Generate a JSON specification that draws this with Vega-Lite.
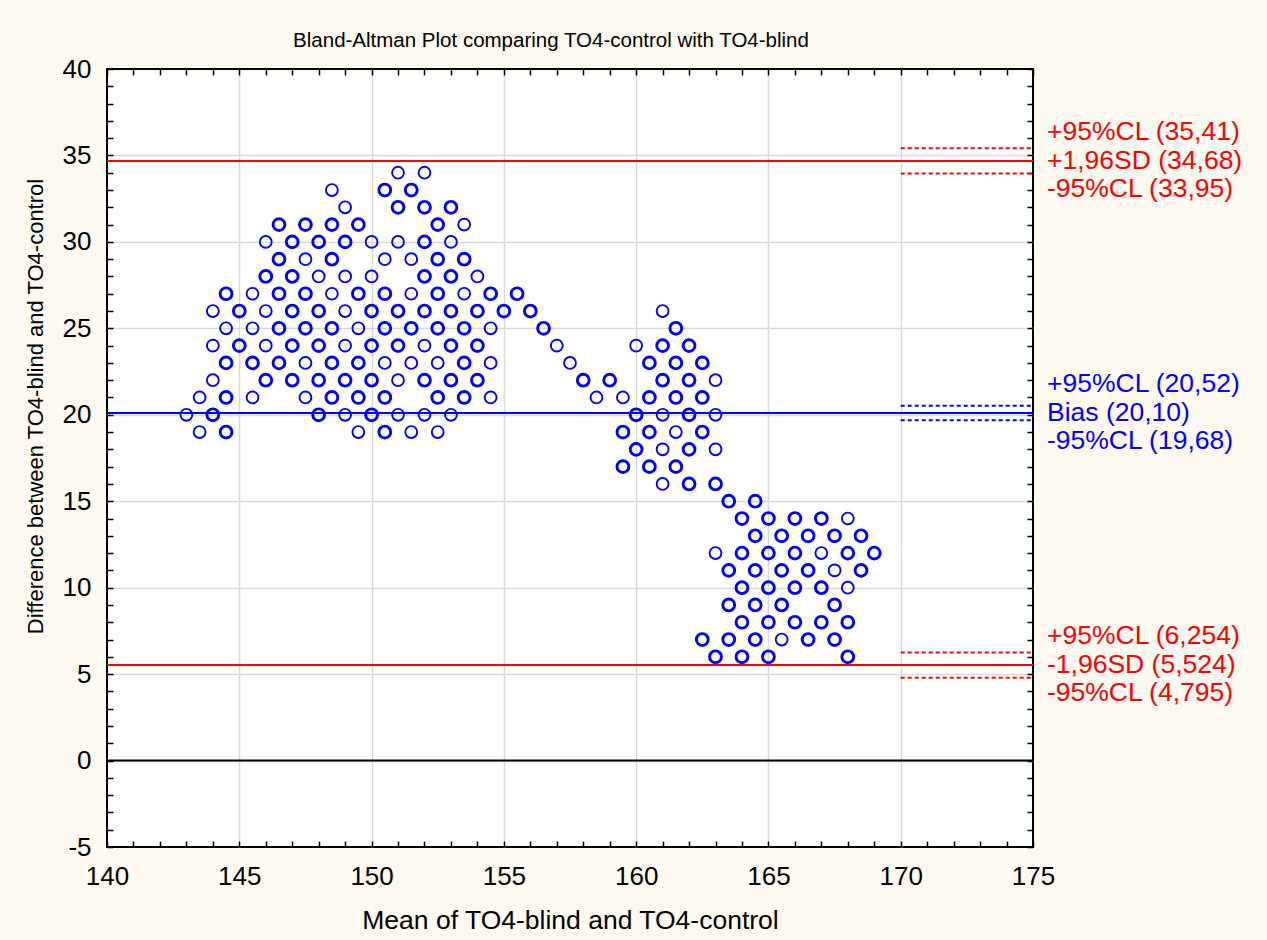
{
  "$schema": "https://vega.github.io/schema/vega-lite/v6.json",
  "width": 926,
  "height": 778,
  "autosize": {"type": "none"},
  "padding": {"left": 107, "top": 69, "right": 234, "bottom": 93},
  "background": "#fdf9f0",
  "title": {
    "text": "Bland-Altman Plot comparing TO4-control with TO4-blind",
    "font": "Liberation Sans",
    "fontSize": 20.5,
    "fontWeight": "normal",
    "color": "black",
    "anchor": "middle",
    "frame": "group",
    "baseline": "alphabetic",
    "offset": -11,
    "dx": -19
  },
  "config": {
    "font": "Liberation Sans",
    "view": {"fill": "white", "stroke": "black", "strokeWidth": 2}
  },
  "datasets": {
    "points": [
      {"m":151,"d":34,"n":1},{"m":152,"d":34,"n":1},
      {"m":148.5,"d":33,"n":1},{"m":150.5,"d":33,"n":2},{"m":151.5,"d":33,"n":2},
      {"m":149,"d":32,"n":1},{"m":151,"d":32,"n":2},{"m":152,"d":32,"n":2},{"m":153,"d":32,"n":2},
      {"m":146.5,"d":31,"n":2},{"m":147.5,"d":31,"n":2},{"m":148.5,"d":31,"n":2},{"m":149.5,"d":31,"n":2},{"m":152.5,"d":31,"n":2},{"m":153.5,"d":31,"n":1},
      {"m":146,"d":30,"n":1},{"m":147,"d":30,"n":2},{"m":148,"d":30,"n":2},{"m":149,"d":30,"n":2},{"m":150,"d":30,"n":1},{"m":151,"d":30,"n":1},{"m":152,"d":30,"n":2},{"m":153,"d":30,"n":1},
      {"m":146.5,"d":29,"n":2},{"m":147.5,"d":29,"n":1},{"m":148.5,"d":29,"n":2},{"m":150.5,"d":29,"n":1},{"m":151.5,"d":29,"n":1},{"m":152.5,"d":29,"n":2},{"m":153.5,"d":29,"n":2},
      {"m":146,"d":28,"n":2},{"m":147,"d":28,"n":2},{"m":148,"d":28,"n":1},{"m":149,"d":28,"n":1},{"m":150,"d":28,"n":1},{"m":152,"d":28,"n":2},{"m":153,"d":28,"n":2},{"m":154,"d":28,"n":1},
      {"m":144.5,"d":27,"n":2},{"m":145.5,"d":27,"n":1},{"m":146.5,"d":27,"n":2},{"m":147.5,"d":27,"n":2},{"m":148.5,"d":27,"n":1},{"m":149.5,"d":27,"n":2},{"m":150.5,"d":27,"n":2},{"m":151.5,"d":27,"n":1},{"m":152.5,"d":27,"n":2},{"m":153.5,"d":27,"n":1},{"m":154.5,"d":27,"n":2},{"m":155.5,"d":27,"n":2},
      {"m":144,"d":26,"n":1},{"m":145,"d":26,"n":2},{"m":146,"d":26,"n":1},{"m":147,"d":26,"n":2},{"m":148,"d":26,"n":2},{"m":149,"d":26,"n":1},{"m":150,"d":26,"n":2},{"m":151,"d":26,"n":2},{"m":152,"d":26,"n":2},{"m":153,"d":26,"n":2},{"m":154,"d":26,"n":2},{"m":155,"d":26,"n":2},{"m":156,"d":26,"n":2},{"m":161,"d":26,"n":1},
      {"m":144.5,"d":25,"n":1},{"m":145.5,"d":25,"n":1},{"m":146.5,"d":25,"n":2},{"m":147.5,"d":25,"n":2},{"m":148.5,"d":25,"n":2},{"m":149.5,"d":25,"n":1},{"m":150.5,"d":25,"n":2},{"m":151.5,"d":25,"n":2},{"m":152.5,"d":25,"n":2},{"m":153.5,"d":25,"n":2},{"m":154.5,"d":25,"n":1},{"m":156.5,"d":25,"n":2},{"m":161.5,"d":25,"n":2},
      {"m":144,"d":24,"n":1},{"m":145,"d":24,"n":2},{"m":146,"d":24,"n":1},{"m":147,"d":24,"n":2},{"m":148,"d":24,"n":2},{"m":149,"d":24,"n":1},{"m":150,"d":24,"n":2},{"m":151,"d":24,"n":2},{"m":152,"d":24,"n":1},{"m":153,"d":24,"n":2},{"m":154,"d":24,"n":2},{"m":157,"d":24,"n":1},{"m":160,"d":24,"n":1},{"m":161,"d":24,"n":2},{"m":162,"d":24,"n":2},
      {"m":144.5,"d":23,"n":2},{"m":145.5,"d":23,"n":2},{"m":146.5,"d":23,"n":2},{"m":147.5,"d":23,"n":1},{"m":148.5,"d":23,"n":2},{"m":149.5,"d":23,"n":2},{"m":150.5,"d":23,"n":1},{"m":151.5,"d":23,"n":1},{"m":152.5,"d":23,"n":1},{"m":153.5,"d":23,"n":2},{"m":154.5,"d":23,"n":1},{"m":157.5,"d":23,"n":1},{"m":160.5,"d":23,"n":2},{"m":161.5,"d":23,"n":2},{"m":162.5,"d":23,"n":2},
      {"m":144,"d":22,"n":1},{"m":146,"d":22,"n":2},{"m":147,"d":22,"n":2},{"m":148,"d":22,"n":2},{"m":149,"d":22,"n":2},{"m":150,"d":22,"n":2},{"m":151,"d":22,"n":1},{"m":152,"d":22,"n":2},{"m":153,"d":22,"n":2},{"m":154,"d":22,"n":2},{"m":158,"d":22,"n":2},{"m":159,"d":22,"n":2},{"m":161,"d":22,"n":2},{"m":162,"d":22,"n":2},{"m":163,"d":22,"n":1},
      {"m":143.5,"d":21,"n":1},{"m":144.5,"d":21,"n":2},{"m":145.5,"d":21,"n":1},{"m":147.5,"d":21,"n":1},{"m":148.5,"d":21,"n":2},{"m":149.5,"d":21,"n":2},{"m":150.5,"d":21,"n":2},{"m":152.5,"d":21,"n":2},{"m":153.5,"d":21,"n":2},{"m":154.5,"d":21,"n":1},{"m":158.5,"d":21,"n":1},{"m":159.5,"d":21,"n":1},{"m":160.5,"d":21,"n":2},{"m":161.5,"d":21,"n":2},{"m":162.5,"d":21,"n":2},
      {"m":143,"d":20,"n":1},{"m":144,"d":20,"n":2},{"m":148,"d":20,"n":2},{"m":149,"d":20,"n":1},{"m":150,"d":20,"n":2},{"m":151,"d":20,"n":1},{"m":152,"d":20,"n":1},{"m":153,"d":20,"n":1},{"m":160,"d":20,"n":2},{"m":161,"d":20,"n":1},{"m":162,"d":20,"n":2},{"m":163,"d":20,"n":1},
      {"m":143.5,"d":19,"n":1},{"m":144.5,"d":19,"n":2},{"m":149.5,"d":19,"n":1},{"m":150.5,"d":19,"n":2},{"m":151.5,"d":19,"n":1},{"m":152.5,"d":19,"n":1},{"m":159.5,"d":19,"n":2},{"m":160.5,"d":19,"n":2},{"m":161.5,"d":19,"n":1},{"m":162.5,"d":19,"n":2},
      {"m":160,"d":18,"n":2},{"m":161,"d":18,"n":1},{"m":162,"d":18,"n":2},{"m":163,"d":18,"n":1},
      {"m":159.5,"d":17,"n":2},{"m":160.5,"d":17,"n":2},{"m":161.5,"d":17,"n":2},
      {"m":161,"d":16,"n":1},{"m":162,"d":16,"n":2},{"m":163,"d":16,"n":2},
      {"m":163.5,"d":15,"n":2},{"m":164.5,"d":15,"n":2},
      {"m":164,"d":14,"n":2},{"m":165,"d":14,"n":2},{"m":166,"d":14,"n":2},{"m":167,"d":14,"n":2},{"m":168,"d":14,"n":1},
      {"m":164.5,"d":13,"n":2},{"m":165.5,"d":13,"n":2},{"m":166.5,"d":13,"n":2},{"m":167.5,"d":13,"n":2},{"m":168.5,"d":13,"n":2},
      {"m":163,"d":12,"n":1},{"m":164,"d":12,"n":2},{"m":165,"d":12,"n":2},{"m":166,"d":12,"n":2},{"m":167,"d":12,"n":1},{"m":168,"d":12,"n":2},{"m":169,"d":12,"n":2},
      {"m":163.5,"d":11,"n":2},{"m":164.5,"d":11,"n":2},{"m":165.5,"d":11,"n":2},{"m":166.5,"d":11,"n":2},{"m":167.5,"d":11,"n":1},{"m":168.5,"d":11,"n":2},
      {"m":164,"d":10,"n":2},{"m":165,"d":10,"n":2},{"m":166,"d":10,"n":2},{"m":167,"d":10,"n":2},{"m":168,"d":10,"n":1},
      {"m":163.5,"d":9,"n":2},{"m":164.5,"d":9,"n":2},{"m":165.5,"d":9,"n":2},{"m":167.5,"d":9,"n":2},
      {"m":164,"d":8,"n":2},{"m":165,"d":8,"n":2},{"m":166,"d":8,"n":2},{"m":167,"d":8,"n":2},{"m":168,"d":8,"n":2},
      {"m":162.5,"d":7,"n":2},{"m":163.5,"d":7,"n":2},{"m":164.5,"d":7,"n":2},{"m":165.5,"d":7,"n":1},{"m":166.5,"d":7,"n":2},{"m":167.5,"d":7,"n":2},
      {"m":163,"d":6,"n":2},{"m":164,"d":6,"n":2},{"m":165,"d":6,"n":2},{"m":168,"d":6,"n":2}
    ],
    "lines": [
      {"v": 0, "kind": "zero"},
      {"v": 34.68, "kind": "limit"},
      {"v": 5.524, "kind": "limit"},
      {"v": 20.10, "kind": "bias"}
    ],
    "ci": [
      {"v": 35.41, "kind": "limit"},
      {"v": 33.95, "kind": "limit"},
      {"v": 20.52, "kind": "bias"},
      {"v": 19.68, "kind": "bias"},
      {"v": 6.254, "kind": "limit"},
      {"v": 4.795, "kind": "limit"}
    ],
    "labels": [
      {"t": "+95%CL (35,41)", "c": 34.68, "p": "u", "kind": "limit"},
      {"t": "+1,96SD (34,68)", "c": 34.68, "p": "m", "kind": "limit"},
      {"t": "-95%CL (33,95)", "c": 34.68, "p": "l", "kind": "limit"},
      {"t": "+95%CL (20,52)", "c": 20.10, "p": "u", "kind": "bias"},
      {"t": "Bias (20,10)", "c": 20.10, "p": "m", "kind": "bias"},
      {"t": "-95%CL (19,68)", "c": 20.10, "p": "l", "kind": "bias"},
      {"t": "+95%CL (6,254)", "c": 5.524, "p": "u", "kind": "limit"},
      {"t": "-1,96SD (5,524)", "c": 5.524, "p": "m", "kind": "limit"},
      {"t": "-95%CL (4,795)", "c": 5.524, "p": "l", "kind": "limit"}
    ]
  },
  "resolve": {"axis": {"x": "independent", "y": "independent"}},
  "layer": [
    {
      "data": {"name": "points"},
      "mark": {"type": "point", "opacity": 0},
      "encoding": {
        "x": {"field": "m", "type": "quantitative", "scale": {"domain": [140, 175], "nice": false, "zero": false},
          "axis": {"orient": "top", "values": [140,141,142,143,144,145,146,147,148,149,150,151,152,153,154,155,156,157,158,159,160,161,162,163,164,165,166,167,168,169,170,171,172,173,174,175],
            "labels": false, "grid": false, "domain": false, "tickSize": -6, "tickColor": "black", "tickWidth": 1.5, "title": null}},
        "y": {"field": "d", "type": "quantitative", "scale": {"domain": [-5, 40], "nice": false, "zero": false},
          "axis": {"orient": "right", "values": [-5,-4,-3,-2,-1,0,1,2,3,4,5,6,7,8,9,10,11,12,13,14,15,16,17,18,19,20,21,22,23,24,25,26,27,28,29,30,31,32,33,34,35,36,37,38,39,40],
            "labels": false, "grid": false, "domain": false, "tickSize": -6, "tickColor": "black", "tickWidth": 1.5, "title": null}}
      }
    },
    {
      "data": {"name": "points"},
      "mark": {"type": "point", "opacity": 0},
      "encoding": {
        "x": {"field": "m", "type": "quantitative", "scale": {"domain": [140, 175], "nice": false, "zero": false},
          "axis": {"orient": "bottom", "values": [140,141,142,143,144,145,146,147,148,149,150,151,152,153,154,155,156,157,158,159,160,161,162,163,164,165,166,167,168,169,170,171,172,173,174,175],
            "labelExpr": "datum.value % 5 === 0 ? '' + datum.value : ''",
            "labelFontSize": 26, "labelColor": "black", "labelBaseline": "alphabetic", "labelPadding": 43,
            "labelOverlap": false, "labelFlush": false, "labelBound": false,
            "domain": false, "tickSize": -6, "tickColor": "black", "tickWidth": 1.5,
            "grid": true, "gridColor": "#d9d9d9", "gridWidth": 1.5,
            "gridOpacity": {"condition": {"test": "datum.value % 5 === 0 && datum.value > 140 && datum.value < 175", "value": 1}, "value": 0},
            "title": "Mean of TO4-blind and TO4-control", "titleFontSize": 26.5, "titleFontWeight": "normal", "titleColor": "black",
            "titleY": 81, "titleBaseline": "alphabetic"}},
        "y": {"field": "d", "type": "quantitative", "scale": {"domain": [-5, 40], "nice": false, "zero": false},
          "axis": {"orient": "left", "values": [-5,-4,-3,-2,-1,0,1,2,3,4,5,6,7,8,9,10,11,12,13,14,15,16,17,18,19,20,21,22,23,24,25,26,27,28,29,30,31,32,33,34,35,36,37,38,39,40],
            "labelExpr": "datum.value % 5 === 0 ? '' + datum.value : ''",
            "labelFontSize": 26, "labelColor": "black", "labelPadding": 22, "labelBaseline": "middle",
            "labelOverlap": false, "labelFlush": false, "labelBound": false,
            "domain": false, "tickSize": -6, "tickColor": "black", "tickWidth": 1.5,
            "grid": true, "gridColor": "#d9d9d9", "gridWidth": 1.5,
            "gridOpacity": {"condition": {"test": "datum.value % 5 === 0 && datum.value > -5 && datum.value < 40", "value": 1}, "value": 0},
            "title": "Difference between TO4-blind and TO4-control", "titleFontSize": 22, "titleFontWeight": "normal", "titleColor": "black",
            "titleX": -65, "titleY": 337, "titleAngle": 270, "titleBaseline": "alphabetic", "titleAlign": "center"}}
      }
    },
    {
      "data": {"name": "lines"},
      "mark": {"type": "rule", "strokeWidth": 2},
      "encoding": {
        "y": {"field": "v", "type": "quantitative", "axis": null, "scale": {"domain": [-5, 40], "nice": false, "zero": false}},
        "color": {"field": "kind", "type": "nominal", "legend": null,
          "scale": {"domain": ["limit", "bias", "zero"], "range": ["#ff0000", "#0000ff", "#000000"]}}
      }
    },
    {
      "data": {"name": "ci"},
      "mark": {"type": "rule", "strokeWidth": 2, "strokeDash": [4, 3]},
      "encoding": {
        "x": {"datum": 170, "type": "quantitative", "axis": null},
        "x2": {"datum": 175},
        "y": {"field": "v", "type": "quantitative", "axis": null},
        "color": {"field": "kind", "type": "nominal", "legend": null}
      }
    },
    {
      "data": {"name": "points"},
      "mark": {"type": "point", "shape": "circle", "filled": false, "color": "#0000ff", "size": 140, "opacity": 1},
      "encoding": {
        "x": {"field": "m", "type": "quantitative", "axis": null},
        "y": {"field": "d", "type": "quantitative", "axis": null},
        "strokeWidth": {"field": "n", "type": "quantitative", "legend": null, "scale": {"domain": [1, 2], "range": [1.9, 2.9]}}
      }
    },
    {
      "data": {"name": "labels"},
      "transform": [{"filter": "datum.p === 'u'"}],
      "mark": {"type": "text", "align": "left", "baseline": "middle", "dx": 14, "dy": -29, "fontSize": 26.5},
      "encoding": {
        "x": {"datum": 175, "type": "quantitative", "axis": null},
        "y": {"field": "c", "type": "quantitative", "axis": null},
        "text": {"field": "t"},
        "color": {"field": "kind", "type": "nominal", "legend": null}
      }
    },
    {
      "data": {"name": "labels"},
      "transform": [{"filter": "datum.p === 'm'"}],
      "mark": {"type": "text", "align": "left", "baseline": "middle", "dx": 14, "dy": 0, "fontSize": 26.5},
      "encoding": {
        "x": {"datum": 175, "type": "quantitative", "axis": null},
        "y": {"field": "c", "type": "quantitative", "axis": null},
        "text": {"field": "t"},
        "color": {"field": "kind", "type": "nominal", "legend": null}
      }
    },
    {
      "data": {"name": "labels"},
      "transform": [{"filter": "datum.p === 'l'"}],
      "mark": {"type": "text", "align": "left", "baseline": "middle", "dx": 14, "dy": 28, "fontSize": 26.5},
      "encoding": {
        "x": {"datum": 175, "type": "quantitative", "axis": null},
        "y": {"field": "c", "type": "quantitative", "axis": null},
        "text": {"field": "t"},
        "color": {"field": "kind", "type": "nominal", "legend": null}
      }
    }
  ]
}
